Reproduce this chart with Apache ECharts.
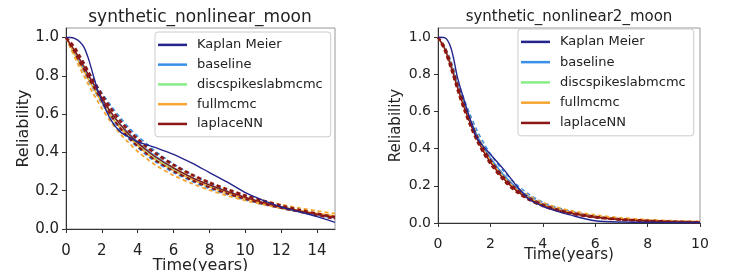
<!DOCTYPE html>
<html>
  <head>
    <title>moon survival</title>
    <script src="https://cdn.jsdelivr.net/npm/echarts@6/dist/echarts.min.js"></script>
  </head>
  <body style="margin:0">
    <div id="main" style="width: 743px; height: 271px"></div>
    <script>
      // time grids (years)
      var tLeft = [0, 0.25, 0.5, 0.75, 1, 1.25, 1.5, 1.75, 2, 2.5, 3, 3.5, 4, 4.5, 5, 6, 7, 8, 9, 10, 11, 12, 13, 14, 15];
      var tRight = [0, 0.25, 0.5, 0.75, 1, 1.25, 1.5, 1.75, 2, 2.5, 3, 3.5, 4, 4.5, 5, 6, 7, 8, 9, 10];

      var names = ["Kaplan Meier", "baseline", "discspikeslabmcmc", "fullmcmc", "laplaceNN"];
      var colors = ["#24248c", "#3a8fe8", "#86ee86", "#f5a530", "#8b1616"];

      // synthetic_nonlinear_moon
      var km1 = [1.0, 1.0, 0.995, 0.98, 0.95, 0.89, 0.81, 0.73, 0.67, 0.57, 0.51, 0.48, 0.455, 0.44, 0.425, 0.39, 0.345, 0.295, 0.245, 0.19, 0.15, 0.115, 0.09, 0.065, 0.035];
      var base1 = [1.0, 0.96, 0.92, 0.88, 0.84, 0.8, 0.76, 0.72, 0.68, 0.61, 0.55, 0.5, 0.455, 0.415, 0.38, 0.32, 0.27, 0.23, 0.195, 0.165, 0.138, 0.115, 0.095, 0.078, 0.062];
      var base1Up = [1.0, 0.965, 0.93, 0.895, 0.86, 0.82, 0.785, 0.745, 0.71, 0.645, 0.585, 0.53, 0.485, 0.445, 0.405, 0.34, 0.285, 0.24, 0.2, 0.165, 0.135, 0.11, 0.09, 0.072, 0.058];
      var base1Lo = [1.0, 0.95, 0.9, 0.86, 0.82, 0.775, 0.735, 0.695, 0.655, 0.585, 0.52, 0.47, 0.425, 0.385, 0.35, 0.295, 0.25, 0.21, 0.18, 0.152, 0.128, 0.108, 0.09, 0.075, 0.062];
      var disc1 = [1.0, 0.955, 0.91, 0.87, 0.83, 0.785, 0.745, 0.705, 0.665, 0.595, 0.535, 0.485, 0.44, 0.4, 0.365, 0.31, 0.262, 0.222, 0.19, 0.162, 0.137, 0.115, 0.097, 0.08, 0.066];
      var full1 = [1.0, 0.955, 0.91, 0.865, 0.825, 0.78, 0.74, 0.7, 0.66, 0.59, 0.53, 0.48, 0.435, 0.395, 0.36, 0.305, 0.26, 0.22, 0.188, 0.16, 0.136, 0.115, 0.097, 0.082, 0.068];
      var full1Up = [1.0, 0.965, 0.925, 0.885, 0.845, 0.805, 0.765, 0.725, 0.685, 0.615, 0.555, 0.505, 0.46, 0.42, 0.385, 0.328, 0.28, 0.24, 0.205, 0.175, 0.15, 0.128, 0.11, 0.094, 0.08];
      var full1Lo = [1.0, 0.945, 0.895, 0.845, 0.8, 0.755, 0.71, 0.67, 0.63, 0.56, 0.5, 0.45, 0.405, 0.368, 0.333, 0.28, 0.238, 0.203, 0.174, 0.149, 0.128, 0.108, 0.092, 0.078, 0.065];
      var lap1 = [1.0, 0.965, 0.93, 0.89, 0.85, 0.805, 0.765, 0.725, 0.685, 0.61, 0.548, 0.495, 0.45, 0.41, 0.375, 0.318, 0.27, 0.23, 0.195, 0.165, 0.138, 0.115, 0.095, 0.077, 0.06];
      var lap1Up = [1.0, 0.975, 0.945, 0.905, 0.865, 0.82, 0.78, 0.74, 0.7, 0.63, 0.568, 0.515, 0.47, 0.43, 0.395, 0.335, 0.285, 0.243, 0.207, 0.175, 0.147, 0.122, 0.1, 0.08, 0.062];
      var lap1Lo = [1.0, 0.96, 0.92, 0.875, 0.835, 0.79, 0.75, 0.71, 0.67, 0.595, 0.53, 0.478, 0.432, 0.393, 0.358, 0.302, 0.256, 0.218, 0.185, 0.157, 0.132, 0.11, 0.09, 0.072, 0.052];

      // synthetic_nonlinear2_moon
      var km2 = [1.0, 0.998, 0.94, 0.78, 0.66, 0.55, 0.455, 0.41, 0.37, 0.29, 0.2, 0.125, 0.09, 0.065, 0.045, 0.012, 0.005, 0.004, 0.003, 0.003];
      var base2 = [1.0, 0.945, 0.855, 0.745, 0.64, 0.55, 0.47, 0.405, 0.35, 0.26, 0.19, 0.14, 0.103, 0.078, 0.06, 0.035, 0.021, 0.013, 0.008, 0.005];
      var base2Up = [1.0, 0.95, 0.87, 0.765, 0.665, 0.575, 0.495, 0.43, 0.372, 0.28, 0.207, 0.152, 0.112, 0.085, 0.065, 0.038, 0.023, 0.014, 0.009, 0.006];
      var base2Lo = [1.0, 0.935, 0.84, 0.725, 0.62, 0.528, 0.448, 0.383, 0.328, 0.24, 0.175, 0.128, 0.094, 0.071, 0.054, 0.031, 0.018, 0.011, 0.007, 0.004];
      var disc2 = [1.0, 0.94, 0.845, 0.735, 0.63, 0.54, 0.46, 0.395, 0.34, 0.25, 0.183, 0.135, 0.1, 0.076, 0.058, 0.034, 0.02, 0.012, 0.008, 0.005];
      var full2 = [1.0, 0.94, 0.845, 0.73, 0.625, 0.535, 0.455, 0.39, 0.335, 0.245, 0.18, 0.134, 0.1, 0.077, 0.06, 0.037, 0.023, 0.015, 0.01, 0.007];
      var full2Up = [1.0, 0.95, 0.86, 0.75, 0.645, 0.553, 0.473, 0.407, 0.35, 0.26, 0.193, 0.145, 0.11, 0.086, 0.068, 0.043, 0.028, 0.018, 0.012, 0.008];
      var full2Lo = [1.0, 0.93, 0.83, 0.712, 0.605, 0.515, 0.437, 0.372, 0.318, 0.23, 0.167, 0.123, 0.09, 0.068, 0.052, 0.031, 0.019, 0.012, 0.008, 0.005];
      var lap2 = [1.0, 0.94, 0.84, 0.725, 0.62, 0.528, 0.448, 0.382, 0.327, 0.238, 0.173, 0.127, 0.094, 0.071, 0.054, 0.031, 0.018, 0.011, 0.007, 0.004];
      var lap2Up = [1.0, 0.945, 0.85, 0.737, 0.632, 0.54, 0.46, 0.393, 0.337, 0.246, 0.18, 0.132, 0.098, 0.074, 0.057, 0.033, 0.019, 0.012, 0.007, 0.004];
      var lap2Lo = [1.0, 0.93, 0.828, 0.712, 0.607, 0.516, 0.437, 0.372, 0.317, 0.23, 0.166, 0.122, 0.09, 0.068, 0.051, 0.029, 0.017, 0.01, 0.006, 0.004];

      var font = "DejaVu Sans";

      function line(k, t, ys, idx, dash, width) {
        return {
          name: names[k],
          type: "line",
          xAxisIndex: idx,
          yAxisIndex: idx,
          data: t.map(function (x, i) { return [x, ys[i]]; }),
          showSymbol: false,
          smooth: 0.3,
          color: colors[k],
          lineStyle: { color: colors[k], width: width || 1.4, type: dash ? [4, 3] : "solid" },
          silent: true,
        };
      }

      var series = [
        // left panel
        line(1, tLeft, base1Up, 0, true, 1.6),
        line(1, tLeft, base1Lo, 0, true, 1.6),
        line(2, tLeft, disc1, 0, false),
        line(3, tLeft, full1Up, 0, true, 1.8),
        line(3, tLeft, full1Lo, 0, true, 1.8),
        line(1, tLeft, base1, 0, false),
        line(3, tLeft, full1, 0, false),
        line(4, tLeft, lap1Up, 0, true, 2.6),
        line(4, tLeft, lap1Lo, 0, true, 2),
        line(4, tLeft, lap1, 0, false),
        line(0, tLeft, km1, 0, false, 1.4),
        // right panel
        line(1, tRight, base2Up, 1, true, 1.6),
        line(1, tRight, base2Lo, 1, true, 1.6),
        line(2, tRight, disc2, 1, false),
        line(3, tRight, full2Up, 1, true, 1.8),
        line(3, tRight, full2Lo, 1, true, 1.8),
        line(1, tRight, base2, 1, false),
        line(3, tRight, full2, 1, false),
        line(4, tRight, lap2Up, 1, true, 2.6),
        line(4, tRight, lap2Lo, 1, true, 2),
        line(4, tRight, lap2, 1, false),
        line(0, tRight, km2, 1, false, 1.4),
      ];

      function legend(left, top, gap) {
        return {
          left: left,
          top: top,
          orient: "vertical",
          data: names,
          icon: "rect",
          itemWidth: 29,
          itemHeight: 2.5,
          itemGap: gap,
          padding: [0, 8, 0, 3],
          backgroundColor: "#fff",
          borderColor: "#ccc",
          borderWidth: 1,
          borderRadius: 3,
          selectedMode: false,
          textStyle: { fontFamily: font, fontSize: 13, color: "#222", padding: [0, 0, 0, 5] },
        };
      }

      function xAxis(idx, max, size, gap) {
        return {
          type: "value",
          gridIndex: idx,
          min: 0,
          max: max,
          interval: 2,
          name: "Time(years)",
          nameLocation: "middle",
          nameGap: gap,
          nameMoveOverlap: false,
          nameTextStyle: { fontFamily: font, fontSize: size + 1, color: "#222" },
          axisLine: { show: true, lineStyle: { color: "#333", width: 1 } },
          axisTick: { show: true, length: 4, lineStyle: { color: "#333" } },
          axisLabel: { fontFamily: font, fontSize: size, color: "#222", margin: 7, showMaxLabel: max % 2 === 0 },
          splitLine: { show: false },
        };
      }

      function yAxis(idx, size, gap) {
        return {
          type: "value",
          gridIndex: idx,
          min: 0,
          max: 1.05,
          interval: 0.2,
          name: "Reliability",
          nameLocation: "middle",
          nameGap: gap,
          nameMoveOverlap: false,
          nameTextStyle: { fontFamily: font, fontSize: size + 1, color: "#222" },
          axisLine: { show: true, lineStyle: { color: "#333", width: 1 } },
          axisTick: { show: true, length: 4, lineStyle: { color: "#333" } },
          axisLabel: {
            fontFamily: font, fontSize: size, color: "#222", margin: 7, showMaxLabel: false,
            formatter: function (v) { return v.toFixed(1); },
          },
          splitLine: { show: false },
        };
      }

      var myChart = echarts.init(document.getElementById("main"));
      var option = {
        animation: false,
        backgroundColor: "#fff",
        title: [
          { text: "synthetic_nonlinear_moon", left: 200, top: 1, padding: 0, textAlign: "center",
            textStyle: { fontFamily: font, fontSize: 17, fontWeight: "normal", color: "#222" } },
          { text: "synthetic_nonlinear2_moon", left: 569, top: 2, padding: 0, textAlign: "center",
            textStyle: { fontFamily: font, fontSize: 15, fontWeight: "normal", color: "#222" } },
        ],
        legend: [legend(155, 32, -6), legend(518, 29, -5.5)],
        grid: [
          { left: 66, right: 408, top: 28, bottom: 42, show: true, borderColor: "#999", borderWidth: 1, outerBoundsMode: "none" },
          { left: 438, right: 43, top: 28, bottom: 48, show: true, borderColor: "#999", borderWidth: 1, outerBoundsMode: "none" },
        ],
        xAxis: [xAxis(0, 15, 15, 21), xAxis(1, 10, 14, 17)],
        yAxis: [yAxis(0, 15, 26), yAxis(1, 14, 27)],
        series: series,
      };
      myChart.setOption(option);
    </script>
  </body>
</html>
